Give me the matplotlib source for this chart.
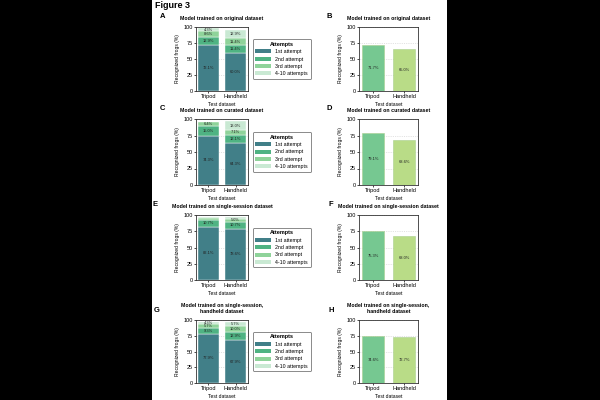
import matplotlib
matplotlib.use("Agg")
import matplotlib.pyplot as plt
from matplotlib.patches import Rectangle

plt.rcParams['font.family'] = ['Liberation Sans', 'DejaVu Sans']

# Данные
datasets = ["Tripod", "Handheld"]
attempts = ["1st attempt", "2nd attempt", "3rd attempt", "4-10 attempts"]

# Стековые графики (слева): по попыткам для Tripod и Handheld
a_tripod = [72.1, 12.9, 8.6, 4.3]
a_hand = [60.0, 11.4, 11.4, 12.9]
c_tripod = [74.3, 15.0, 6.4, 0.0]
c_hand = [64.3, 12.1, 7.1, 13.0]
e_tripod = [82.1, 10.7, 2.5, 1.8]
e_hand = [78.6, 10.7, 5.0, 2.1]
g_tripod = [77.9, 9.3, 5.7, 4.3]
g_hand = [67.9, 12.9, 10.0, 5.7]

# Простые графики (справа)
b_vals = [71.7, 65.0]
d_vals = [79.1, 68.6]
f_vals = [75.3, 68.0]
h_vals = [74.6, 72.7]

titles = ["Model trained on original dataset",
          "Model trained on curated dataset",
          "Model trained on single-session dataset",
          "Model trained on single-session,\nhandheld dataset"]

stack_colors = ["#417f88", "#4fb383", "#8fd39a", "#c9e9d3"]
bar_colors = ["#76c891", "#b9dc87"]

W, H = 600, 400
fig = plt.figure(figsize=(6, 4), dpi=100, facecolor="black")
fig.patches.append(Rectangle((152 / W, 0), 295 / W, 1, transform=fig.transFigure,
                             facecolor="white", edgecolor="none", zorder=-5))

fig.text(155 / W, 1 - 6 / H, "Figure 3", fontsize=6.5, fontweight="bold", va="center", ha="left")

# Положение строк в пикселях (верх, низ)
rows = [(27, 91), (119, 185), (215, 280), (320, 383)]
left_col = (196, 248)
right_col = (359, 418)
letters_left = [("A", 163), ("C", 162), ("E", 155), ("G", 157)]
letters_right = [("B", 329), ("D", 329), ("F", 331), ("H", 331)]


def make_ax(col, row):
    l, r = col
    t, b = row
    return fig.add_axes([l / W, 1 - b / H, (r - l) / W, (b - t) / H], zorder=2)


def style(ax, title):
    ax.set_ylim(0, 100)
    ax.set_xlim(-0.45, 1.45)
    ax.set_yticks([0, 25, 50, 75, 100])
    ax.set_xticks([0, 1])
    ax.set_xticklabels(datasets)
    ax.tick_params(labelsize=4, length=1.5, width=0.5, pad=1)
    for s in ax.spines.values():
        s.set_linewidth(0.6)
        s.set_color("#333333")
    ax.yaxis.grid(True, linestyle=(0, (2, 2)), color="#cccccc", linewidth=0.4)
    ax.set_axisbelow(True)
    ax.set_ylabel("Recognized frogs (%)", fontsize=3.6, labelpad=2)
    ax.set_xlabel("Test dataset", fontsize=3.6, labelpad=1.5)
    ax.set_title(title, fontsize=3.8, fontweight="bold", pad=5)


stacks = [(a_tripod, a_hand), (c_tripod, c_hand), (e_tripod, e_hand), (g_tripod, g_hand)]
simple = [b_vals, d_vals, f_vals, h_vals]

for i in range(4):
    row = rows[i]
    # Левый график
    ax = make_ax(left_col, row)
    style(ax, titles[i])
    for xi, vals in enumerate(stacks[i]):
        bottom = 0
        for k, v in enumerate(vals):
            if v <= 0:
                continue
            ax.bar(xi, v, bottom=bottom, width=0.75, color=stack_colors[k],
                   edgecolor="white", linewidth=0.3)
            if v >= 4:
                ax.text(xi, bottom + v / 2, f"{v:.1f}%", fontsize=2.9,
                        ha="center", va="center", color="#222222")
            bottom += v
    handles = [Rectangle((0, 0), 1, 1, facecolor=c, edgecolor="none") for c in stack_colors]
    leg = ax.legend(handles, attempts, title="Attempts", loc="center left",
                    bbox_to_anchor=(1.04, 0.5), fontsize=3.8, title_fontsize=4,
                    frameon=True, fancybox=True, edgecolor="#555555",
                    handlelength=3.0, handleheight=0.8, borderpad=0.5,
                    labelspacing=0.45, handletextpad=0.8)
    leg.get_title().set_fontweight("bold")
    leg.get_frame().set_linewidth(0.6)
    fig.text(letters_left[i][1] / W, 1 - (row[0] - 10) / H, letters_left[i][0],
             fontsize=5.5, fontweight="bold", ha="center", va="center")

    # Правый график
    ax2 = make_ax(right_col, row)
    style(ax2, titles[i])
    vals = simple[i]
    for xi, v in enumerate(vals):
        ax2.bar(xi, v, width=0.68, color=bar_colors[xi], edgecolor="#a9cf8f", linewidth=0.4)
        ax2.text(xi, v / 2, f"{v:.1f}%", fontsize=2.9, ha="center", va="center", color="#222222")
    fig.text(letters_right[i][1] / W, 1 - (row[0] - 10) / H, letters_right[i][0],
             fontsize=5.5, fontweight="bold", ha="center", va="center")

fig.savefig("out.png", dpi=100, facecolor="black")
